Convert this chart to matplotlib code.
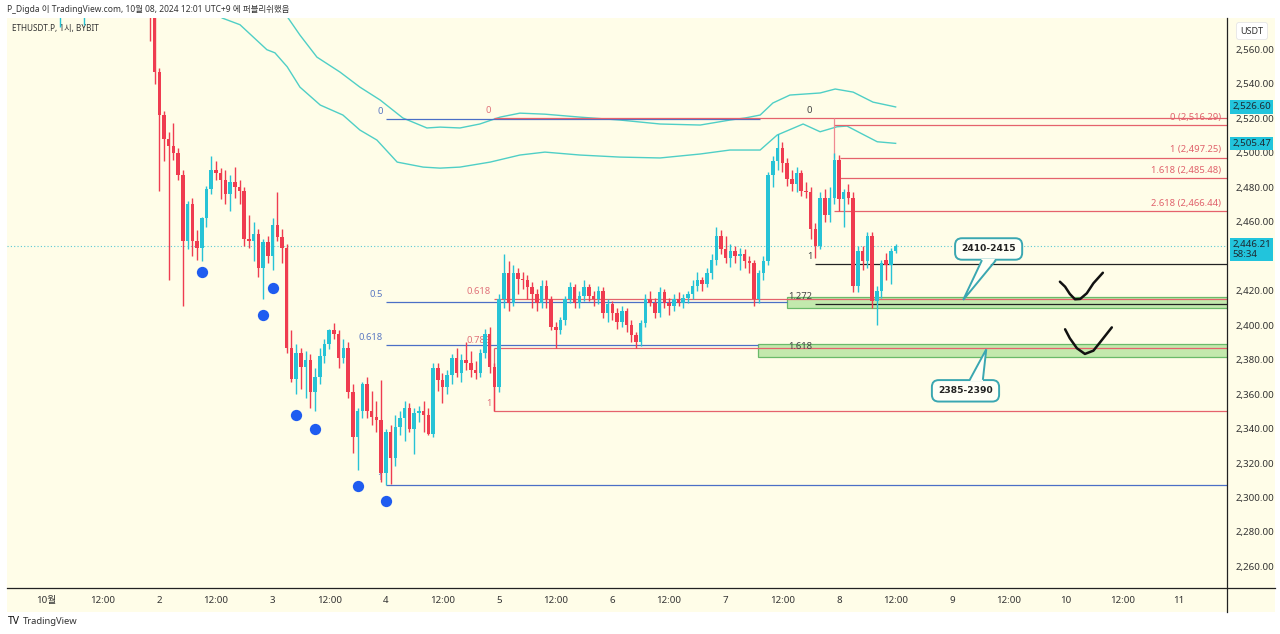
import matplotlib
matplotlib.use('Agg')
import matplotlib.pyplot as plt
import matplotlib.transforms as mtransforms
from matplotlib.patches import Rectangle, Polygon
from matplotlib.lines import Line2D
import numpy as np

plt.rcParams['font.family'] = ['Noto Sans', 'Noto Sans CJK KR']

# hourly candles, hour 0 = 10월 1일 00:00
first_hour = -8
opens = [2625, 2628, 2622, 2616, 2620, 2630, 2636, 2632,
         2624, 2614, 2606, 2598, 2602, 2612, 2620, 2608, 2596, 2600, 2606, 2610,
         2616, 2622, 2618, 2612, 2608, 2604, 2600, 2606, 2600, 2594, 2598, 2590,
         2547, 2522, 2508, 2504, 2500, 2487, 2449, 2470, 2449, 2445, 2462, 2479,
         2490, 2488, 2484, 2476, 2483, 2480, 2478, 2450, 2449, 2453, 2433, 2448,
         2440, 2458, 2451, 2445, 2387, 2369, 2384, 2376, 2380, 2361, 2370, 2382,
         2389, 2397, 2395, 2381, 2387, 2361, 2335, 2350, 2366, 2350, 2347, 2345,
         2314, 2338, 2323, 2341, 2346, 2352, 2340, 2349, 2350, 2348, 2337, 2375,
         2368, 2364, 2371, 2381, 2372, 2380, 2378, 2374, 2372, 2384, 2395, 2376,
         2364, 2415, 2430, 2413, 2430, 2427, 2426, 2422, 2418, 2413, 2423, 2415,
         2399, 2397, 2403, 2415, 2422, 2413, 2417, 2422, 2417, 2415, 2420, 2407,
         2412, 2407, 2402, 2408, 2400, 2394, 2390, 2401, 2415, 2413, 2407, 2419,
         2413, 2411, 2415, 2413, 2416, 2418, 2423, 2426, 2424, 2430, 2438, 2452,
         2444, 2439, 2443, 2440, 2441, 2437, 2436, 2415, 2430, 2437, 2487, 2495,
         2503, 2494, 2485, 2482, 2488, 2478, 2477, 2456, 2446, 2474, 2464, 2474,
         2496, 2473, 2477, 2474, 2423, 2443, 2437, 2452, 2414, 2420, 2438, 2435,
         2443]
highs = [2632, 2636, 2630, 2624, 2634, 2641, 2644, 2638,
         2630, 2622, 2615, 2608, 2618, 2626, 2628, 2614, 2604, 2612, 2616, 2622,
         2628, 2630, 2624, 2620, 2616, 2612, 2610, 2614, 2608, 2602, 2604, 2594,
         2549, 2524, 2512, 2517, 2503, 2490, 2472, 2474, 2455, 2463, 2481, 2498,
         2495, 2491, 2490, 2487, 2492, 2484, 2480, 2464, 2460, 2456, 2450, 2452,
         2462, 2477, 2456, 2447, 2397, 2389, 2387, 2385, 2383, 2375, 2387, 2392,
         2398, 2401, 2397, 2392, 2390, 2366, 2352, 2367, 2370, 2362, 2356, 2368,
         2340, 2342, 2348, 2350, 2356, 2355, 2352, 2353, 2356, 2352, 2378, 2378,
         2372, 2374, 2383, 2387, 2383, 2390, 2385, 2379, 2386, 2398, 2399, 2378,
         2418, 2441, 2437, 2435, 2433, 2431, 2429, 2425, 2421, 2426, 2426, 2417,
         2402, 2405, 2417, 2425, 2424, 2420, 2426, 2424, 2420, 2423, 2422, 2415,
         2414, 2410, 2411, 2410, 2403, 2396, 2403, 2418, 2420, 2416, 2422, 2421,
         2416, 2418, 2419, 2418, 2420, 2426, 2431, 2428, 2433, 2441, 2457, 2455,
         2452, 2447, 2446, 2445, 2444, 2440, 2438, 2432, 2440, 2489, 2498, 2511,
         2506, 2497, 2490, 2492, 2490, 2483, 2480, 2459, 2477, 2479, 2480, 2500,
         2499, 2479, 2482, 2477, 2446, 2446, 2454, 2454, 2423, 2438, 2442, 2445,
         2447]
lows = [2618, 2620, 2612, 2608, 2615, 2624, 2628, 2620,
        2610, 2600, 2592, 2573, 2596, 2606, 2604, 2590, 2574, 2594, 2598, 2604,
        2610, 2612, 2606, 2600, 2598, 2594, 2592, 2596, 2588, 2584, 2565, 2540,
        2478, 2495, 2426, 2496, 2484, 2411, 2444, 2440, 2438, 2437, 2457, 2476,
        2484, 2473, 2470, 2466, 2474, 2470, 2446, 2445, 2437, 2428, 2415, 2436,
        2432, 2449, 2436, 2384, 2367, 2360, 2363, 2358, 2352, 2350, 2366, 2378,
        2386, 2392, 2375, 2378, 2358, 2326, 2316, 2346, 2346, 2342, 2338, 2309,
        2307, 2308, 2318, 2336, 2333, 2338, 2325, 2344, 2338, 2336, 2335, 2362,
        2355, 2360, 2366, 2370, 2367, 2374, 2370, 2369, 2370, 2381, 2372, 2350,
        2361, 2410, 2408, 2411, 2418, 2421, 2415, 2410, 2408, 2410, 2410, 2397,
        2387, 2395, 2400, 2413, 2410, 2410, 2414, 2414, 2411, 2412, 2404, 2402,
        2403, 2398, 2399, 2396, 2390, 2387, 2388, 2399, 2411, 2404, 2405, 2410,
        2406, 2408, 2411, 2410, 2413, 2415, 2420, 2420, 2422, 2427, 2435, 2441,
        2436, 2434, 2436, 2432, 2433, 2430, 2411, 2413, 2426, 2435, 2480, 2490,
        2489, 2481, 2478, 2477, 2475, 2474, 2450, 2439, 2444, 2460, 2460, 2470,
        2466, 2457, 2470, 2419, 2419, 2432, 2433, 2410, 2400, 2416, 2426, 2424,
        2442]
closes = [2628, 2622, 2616, 2620, 2630, 2636, 2632, 2624,
          2614, 2606, 2598, 2602, 2612, 2620, 2608, 2596, 2600, 2606, 2610, 2616,
          2622, 2618, 2612, 2608, 2604, 2600, 2606, 2600, 2594, 2598, 2590, 2547,
          2522, 2508, 2504, 2500, 2487, 2449, 2470, 2449, 2445, 2462, 2479, 2490,
          2488, 2484, 2476, 2483, 2480, 2478, 2450, 2449, 2453, 2433, 2448, 2440,
          2458, 2451, 2445, 2387, 2369, 2384, 2376, 2380, 2361, 2370, 2382, 2389,
          2397, 2395, 2381, 2387, 2361, 2335, 2350, 2366, 2350, 2347, 2345, 2314,
          2338, 2323, 2341, 2346, 2352, 2340, 2349, 2350, 2348, 2337, 2375, 2368,
          2364, 2371, 2381, 2372, 2380, 2378, 2374, 2372, 2384, 2395, 2376, 2364,
          2415, 2430, 2413, 2430, 2427, 2426, 2422, 2418, 2413, 2423, 2415, 2399,
          2397, 2403, 2415, 2422, 2413, 2417, 2422, 2417, 2415, 2420, 2407, 2412,
          2407, 2402, 2408, 2400, 2394, 2390, 2401, 2415, 2413, 2407, 2419, 2413,
          2411, 2415, 2413, 2416, 2418, 2423, 2426, 2424, 2430, 2438, 2452, 2444,
          2439, 2443, 2440, 2441, 2437, 2436, 2415, 2430, 2437, 2487, 2495, 2503,
          2494, 2485, 2482, 2488, 2478, 2477, 2456, 2446, 2474, 2464, 2474, 2496,
          2473, 2477, 2474, 2423, 2443, 2437, 2452, 2414, 2420, 2436, 2435, 2443,
          2446.21]

# envelope / band lines
upper_band_h = [49.6, 51.3, 53.8, 57.4, 62.3, 66.5, 70.8, 75.6, 80.7, 83.5, 87.7, 91.9, 96.2,
                100.4, 105.7, 113.1, 121.6, 130.1, 138.6, 144.9, 148.1, 151.3, 154.0, 157.6,
                160.8, 164.0, 167.2, 171.0, 175.2, 180.0]
upper_band_p = [2585.7, 2578.2, 2568.3, 2555.5, 2546.8, 2538.1, 2530.6, 2520.2, 2514.4, 2514.9,
                2514.4, 2516.7, 2520.7, 2523.0, 2522.4, 2520.7, 2519.0, 2516.7, 2516.1, 2519.0,
                2520.2, 2521.9, 2528.9, 2533.5, 2534.1, 2534.7, 2537.0, 2535.2, 2529.4, 2526.6]
lower_band_h = [35.2, 37.3, 41.1, 46.8, 48.5, 51.1, 53.8, 58.1, 62.9, 66.5, 70.1, 74.4, 79.9,
                83.5, 87.7, 94.1, 100.4, 105.7, 113.1, 121.6, 130.1, 138.6, 144.9, 151.3,
                154.9, 160.4, 164.0, 167.6, 169.7, 172.5, 176.1, 180.0]
lower_band_p = [2585.7, 2578.2, 2574.3, 2559.8, 2558.0, 2549.9, 2538.1, 2527.7, 2521.9, 2513.2,
                2507.4, 2494.6, 2491.7, 2491.1, 2491.7, 2494.6, 2498.7, 2500.4, 2498.7, 2497.5,
                2497.0, 2499.3, 2501.6, 2501.6, 2510.3, 2516.7, 2512.2, 2515.1, 2515.5, 2511.5,
                2506.4, 2505.47]

pivot_h = [33, 46, 48, 53, 57, 66, 72]
pivot_p = [2430.8, 2405.9, 2421.5, 2347.9, 2339.8, 2306.7, 2297.9]

# fibonacci drawings
blue_levels = ['0', '0.5', '0.618', '1']
blue_prices = [2519.5, 2413.4, 2388.3, 2307.3]
blue_start = 72.0
blue_ends = [151.3, 157.0, 150.8, 250.5]

red_levels = ['0', '0.618', '0.786', '1']
red_prices = [2520.0, 2415.1, 2386.6, 2350.3]
red_start = 94.9

black_levels = ['0', '1', '1.272', '1.618']
black_prices = [2520.0, 2435.5, 2412.4, 2383.3]
black_start = 162.9

ext_levels = ['0 (2,516.29)', '1 (2,497.25)', '1.618 (2,485.48)', '2.618 (2,466.44)']
ext_prices = [2516.29, 2497.25, 2485.48, 2466.44]
ext_starts = [167.0, 168.2, 168.2, 167.0]

zone_low = [2410.0, 2381.8]
zone_high = [2416.4, 2388.8]
zone_start = [157.0, 150.8]

callout_text = ['2410-2415', '2385-2390']
callout_h = [199.7, 194.8]
callout_p = [2444.2, 2361.9]
pointer_base_h = [(198.2, 201.1), (195.8, 198.5)]
pointer_base_p = [2437.2, 2368.8]
pointer_tip = [(194.3, 2414.6), (199.2, 2386.0)]

check1_h = [214.8, 215.9, 216.9, 218.0, 219.1, 220.5, 221.9, 223.9]
check1_p = [2425.2, 2422.3, 2418.1, 2415.0, 2415.2, 2418.5, 2424.3, 2430.4]
check2_h = [215.9, 216.9, 218.4, 220.1, 221.9, 223.7, 225.8]
check2_p = [2397.6, 2392.4, 2386.6, 2383.3, 2385.2, 2391.4, 2398.7]

last_price = 2446.21
upper_last = 2526.60
lower_last = 2505.47

price_ticks = list(range(2260, 2561, 20))
x_ticks = list(range(0, 241, 12))
x_labels = ['10월', '12:00', '2', '12:00', '3', '12:00', '4', '12:00', '5', '12:00', '6',
            '12:00', '7', '12:00', '8', '12:00', '9', '12:00', '10', '12:00', '11']

CREAM = '#fffde8'
UP = '#27c3d6'
DOWN = '#ef3c50'
BAND = '#4fcfc6'
BLUE = '#4b6fc6'
RED = '#e5626c'
TEXT = '#333333'

W, H = 1280, 634
fig = plt.figure(figsize=(W / 100, H / 100), dpi=100, facecolor='white')
fig.patches.append(Rectangle((7 / W, 1 - 612 / H), (1275 - 7) / W, (612 - 18) / H,
                             transform=fig.transFigure, fc=CREAM, ec='none', zorder=-10))
ax = fig.add_axes([7 / W, 1 - 588 / H, (1227 - 7) / W, (588 - 18) / H])
ax.set_facecolor('none')
ax.set_xlim(-8.26, 250.2)
ax.set_ylim(2247.5, 2578.2)
for s in ax.spines.values():
    s.set_visible(False)

# bands
ax.plot(upper_band_h, upper_band_p, color=BAND, lw=1.0, zorder=2)
ax.plot(lower_band_h, lower_band_p, color=BAND, lw=1.0, zorder=2)

# current price line
ax.axhline(last_price, color='#5cc9d4', lw=0.8, ls=(0, (1, 2)), zorder=1)

# green zones
for lo, hi, st in zip(zone_low, zone_high, zone_start):
    ax.add_patch(Rectangle((st, lo), 260 - st, hi - lo, fc='#b9e6a3', ec='#55b058',
                           lw=0.9, alpha=0.85, zorder=2))

lbl = dict(fontsize=6.8, ha='right', va='bottom', textcoords='offset points')

# blue fib
for lev, pr, end in zip(blue_levels, blue_prices, blue_ends):
    ax.hlines(pr, blue_start, end, color=BLUE, lw=0.9, zorder=3)
    ax.annotate(lev, (blue_start, pr), xytext=(-2, 2.2), color='#5a78c2', **lbl)

# red fib
for lev, pr in zip(red_levels, red_prices):
    ax.hlines(pr, red_start, 260, color=RED, lw=0.9, zorder=3)
    ax.annotate(lev, (red_start, pr), xytext=(-2, 2.2), color='#e0727a', **lbl)
ax.vlines(red_start, red_prices[3], red_prices[2], color=RED, lw=0.9, zorder=3)

# black fib (only levels 1 and 1.272 show a line)
for lev, pr in zip(black_levels, black_prices):
    if lev in ('1', '1.272'):
        ax.hlines(pr, black_start, 260, color='#222222', lw=0.9, zorder=3)
    ax.annotate(lev, (black_start, pr), xytext=(-2, 2.2), color='#444444', **lbl)

# extension fib on the right
for lev, pr, st in zip(ext_levels, ext_prices, ext_starts):
    ax.hlines(pr, st, 260, color=RED, lw=0.9, zorder=3)
    ax.annotate(lev, (249.0, pr), xytext=(0, 2.2), color='#e0626c', **lbl)
ax.vlines(167.0, 2497.0, 2520.0, color='#f08a92', lw=0.9, zorder=3)

# candles
hours = np.arange(first_hour, first_hour + len(opens))
o = np.array(opens, dtype=float)
c = np.array(closes, dtype=float)
colors = np.where(c >= o, UP, DOWN)
ax.vlines(hours, lows, highs, colors=colors, lw=1.0, zorder=4)
ax.bar(hours, np.maximum(np.abs(c - o), 0.8), bottom=np.minimum(o, c), width=0.74,
       color=colors, linewidth=0, zorder=5)

# pivot dots
ax.scatter(pivot_h, pivot_p, s=66, color='#1f5cf0', zorder=6, linewidths=0)

# callouts
for txt, ch, cp, (b1, b2), bp, (th, tp) in zip(callout_text, callout_h, callout_p,
                                               pointer_base_h, pointer_base_p, pointer_tip):
    ax.text(ch, cp, txt, ha='center', va='center', fontsize=6.6, fontweight='bold',
            family=['DejaVu Sans'], color='#222222', zorder=8,
            bbox=dict(boxstyle='round,pad=0.68,rounding_size=0.75', fc='#fffff6',
                      ec='#3aa7b1', lw=1.4))
    inside = bp + (1.2 if bp > tp else -1.2)
    ax.add_patch(Polygon([(b1, inside), (b2, inside), (th, tp)], closed=True,
                         fc='#fffff6', ec='none', zorder=9))
    ax.plot([b1, th, b2], [bp, tp, bp], color='#3aa7b1', lw=1.4, zorder=9,
            solid_joinstyle='miter')

# hand-drawn checks
ax.plot(check1_h, check1_p, color='#111111', lw=1.8, zorder=9, solid_capstyle='round')
ax.plot(check2_h, check2_p, color='#111111', lw=1.8, zorder=9, solid_capstyle='round')

# axes / ticks (2,440 sits under the last price tag)
ax.set_xticks(x_ticks)
ax.set_xticklabels(x_labels)
ax.set_yticks(price_ticks)
ax.set_yticklabels(['' if v == 2440 else f'{v:,.2f}' for v in price_ticks])
ax.tick_params(axis='x', length=0, pad=6, labelsize=7, labelcolor=TEXT)
ax.tick_params(axis='y', length=0, pad=6.5, labelsize=7, labelcolor=TEXT,
               left=False, labelleft=False, right=True, labelright=True)

fig.add_artist(Line2D([7 / W, 1275 / W], [1 - 588 / H] * 2, color='#222222', lw=0.9))
fig.add_artist(Line2D([1227 / W] * 2, [1 - 18 / H, 1 - 612 / H], color='#222222', lw=0.9))

# price tags on the axis
tr = mtransforms.blended_transform_factory(ax.transAxes, ax.transData)
for val in (upper_last, lower_last):
    ax.text(1.0045, val, f'{val:,.2f}', transform=tr, ha='left', va='center', fontsize=7,
            color='#1d2a33', clip_on=False, zorder=10,
            bbox=dict(boxstyle='square,pad=0.22', fc='#22c4dc', ec='none'))
ax.text(1.0045, last_price + 3.0, f'{last_price:,.2f}\n58:34', transform=tr, ha='left',
        va='top', fontsize=7, color='#1d2a33', clip_on=False, zorder=10, linespacing=1.05,
        bbox=dict(boxstyle='square,pad=0.22', fc='#22c4dc', ec='none'))

fig.text(1252 / W, 1 - 31 / H, 'USDT', ha='center', va='center', fontsize=6.5, color=TEXT,
         bbox=dict(boxstyle='round,pad=0.45,rounding_size=0.3', fc='white', ec='#e6e6e6', lw=0.6))

# header / titles
fig.text(7 / W, 1 - 9 / H, 'P_Digda 이 TradingView.com, 10월 08, 2024 12:01 UTC+9 에 퍼블리쉬했음',
         ha='left', va='center', fontsize=6.1, color=TEXT)
ax.text(5 / (1227 - 7), 1 - 10 / (588 - 18), 'ETHUSDT.P, 1시, BYBIT',
        transform=ax.transAxes, ha='left', va='center', fontsize=5.9, color=TEXT)
fig.text(8 / W, 1 - 621 / H, 'TV', ha='left', va='center', fontsize=7.5, fontweight='bold',
         color='#111111')
fig.text(23 / W, 1 - 621 / H, 'TradingView', ha='left', va='center', fontsize=6.8,
         color='#333333')

fig.savefig('out.png', dpi=100, facecolor='white')
